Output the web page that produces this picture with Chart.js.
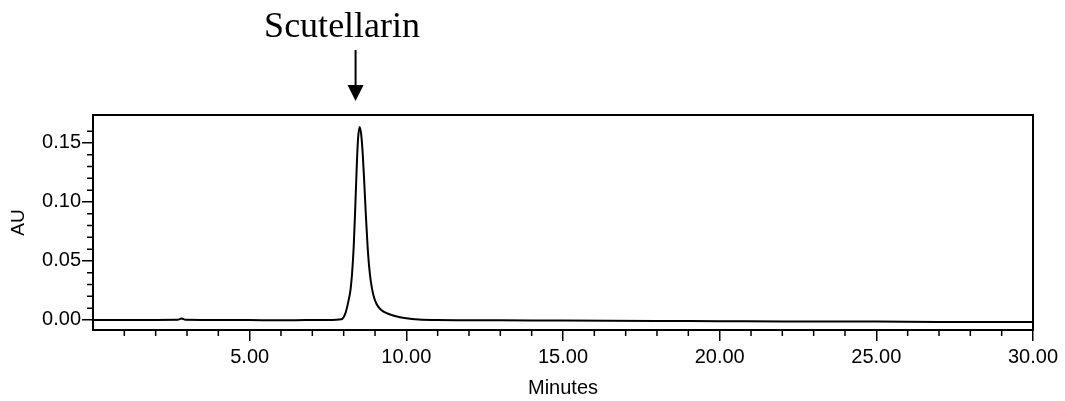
<!DOCTYPE html>
<html><head><meta charset="utf-8">
<script src="https://cdn.jsdelivr.net/npm/chart.js@4"></script>
<style>html,body{margin:0;padding:0;background:#fff}#wrap{width:1065px;height:401px}</style>
</head><body><div id="wrap"><canvas id="c" width="1065" height="401"></canvas></div>
<script>
const timeMinutes = [0, 1.0, 2.0, 2.7, 2.83, 2.95, 3.5, 5.0, 6.0, 6.8, 7.5, 7.93, 8.06, 8.16, 8.22, 8.27, 8.32, 8.37, 8.42, 8.46, 8.51, 8.56, 8.61, 8.66, 8.71, 8.76, 8.81, 8.87, 8.95, 9.05, 9.20, 9.40, 9.70, 10.0, 10.4, 11.0, 13.0, 15.0, 18.0, 20.0, 22.0, 25.0, 27.0, 30.0];
const absorbanceAU = [0.0000, 0.0000, 0.0000, 0.0001, 0.0012, 0.0001, 0.0000, -0.0001, -0.0002, -0.0001, 0.0000, 0.0006, 0.0060, 0.0170, 0.0260, 0.0400, 0.0620, 0.0950, 0.1320, 0.1540, 0.1636, 0.1570, 0.1400, 0.1150, 0.0880, 0.0640, 0.0460, 0.0320, 0.0210, 0.0135, 0.0085, 0.0055, 0.0030, 0.0015, 0.0005, 0.0000, -0.0003, -0.0005, -0.0008, -0.0010, -0.0012, -0.0014, -0.0017, -0.0018];
const xMajorTicks = [5, 10, 15, 20, 25, 30];
const xMinorTicks = [1, 2, 3, 4, 6, 7, 8, 9, 11, 12, 13, 14, 16, 17, 18, 19, 21, 22, 23, 24, 26, 27, 28, 29];
const yMajorTicks = [0, 0.05, 0.10, 0.15];
const yMinorTicks = [0.01, 0.02, 0.03, 0.04, 0.06, 0.07, 0.08, 0.09, 0.11, 0.12, 0.13, 0.14, 0.16];
const peakLabel = 'Scutellarin';
const peakArrowTime = 8.38;
const peakLabelTime = 7.95;
const xTitle = 'Minutes';
const yTitle = 'AU';

const points = timeMinutes.map((t, i) => ({x: t, y: absorbanceAU[i]}));

Chart.defaults.color = '#000';
Chart.defaults.font.family = '"Liberation Sans", Arial, sans-serif';
Chart.defaults.font.size = 20;

const decor = {
  id: 'decor',
  afterDraw(chart) {
    const ctx = chart.ctx, a = chart.chartArea;
    const xs = chart.scales.x, ys = chart.scales.y;
    ctx.save();
    ctx.strokeStyle = '#000';
    ctx.lineWidth = 1.5;
    ctx.beginPath();
    xMinorTicks.forEach(v => { const p = xs.getPixelForValue(v); ctx.moveTo(p, a.bottom); ctx.lineTo(p, a.bottom + 6); });
    yMinorTicks.forEach(v => { const p = ys.getPixelForValue(v); ctx.moveTo(a.left, p); ctx.lineTo(a.left - 6, p); });
    ctx.stroke();
    ctx.lineWidth = 2;
    ctx.strokeRect(a.left, a.top, a.right - a.left, a.bottom - a.top);
    // annotation
    const ax = xs.getPixelForValue(peakArrowTime);
    const lx = xs.getPixelForValue(peakLabelTime);
    ctx.fillStyle = '#000';
    ctx.font = '36px "Liberation Serif", "Times New Roman", serif';
    ctx.textAlign = 'center';
    ctx.textBaseline = 'middle';
    ctx.fillText(peakLabel, lx, a.top - 87);
    ctx.lineWidth = 2;
    ctx.beginPath();
    ctx.moveTo(ax, a.top - 65);
    ctx.lineTo(ax, a.top - 28);
    ctx.stroke();
    ctx.beginPath();
    ctx.moveTo(ax - 8, a.top - 30);
    ctx.lineTo(ax + 8, a.top - 30);
    ctx.lineTo(ax, a.top - 14);
    ctx.closePath();
    ctx.fill();
    ctx.restore();
  }
};

new Chart(document.getElementById('c'), {
  type: 'line',
  data: { datasets: [{ data: points, borderColor: '#000', borderWidth: 2, pointRadius: 0, fill: false, cubicInterpolationMode: 'monotone' }] },
  options: {
    responsive: false,
    animation: false,
    devicePixelRatio: 1,
    layout: { padding: { top: 115, right: 32, left: 0, bottom: 0 } },
    plugins: { legend: { display: false }, tooltip: { enabled: false } },
    scales: {
      x: {
        type: 'linear', min: 0, max: 30,
        afterBuildTicks: s => { s.ticks = xMajorTicks.map(v => ({value: v})); },
        afterFit: s => { s.height = 71; },
        ticks: { padding: 4, maxRotation: 0, autoSkip: false, callback: v => Number(v).toFixed(2) },
        grid: { drawOnChartArea: false, drawTicks: true, tickLength: 11, color: '#000', lineWidth: 1.5 },
        border: { display: false },
        title: { display: true, text: xTitle, font: { size: 20 }, padding: { top: 0, bottom: 1 } }
      },
      y: {
        type: 'linear', min: -0.0085, max: 0.1737,
        afterBuildTicks: s => { s.ticks = yMajorTicks.map(v => ({value: v})); },
        afterFit: s => { s.width = 93; },
        ticks: { padding: 1, autoSkip: false, callback: v => Number(v).toFixed(2) },
        grid: { drawOnChartArea: false, drawTicks: true, tickLength: 11, color: '#000', lineWidth: 1.5 },
        border: { display: false },
        title: { display: true, text: yTitle, font: { size: 19 }, padding: { top: 7, bottom: 0 } }
      }
    }
  },
  plugins: [decor]
});
</script>
</body></html>
